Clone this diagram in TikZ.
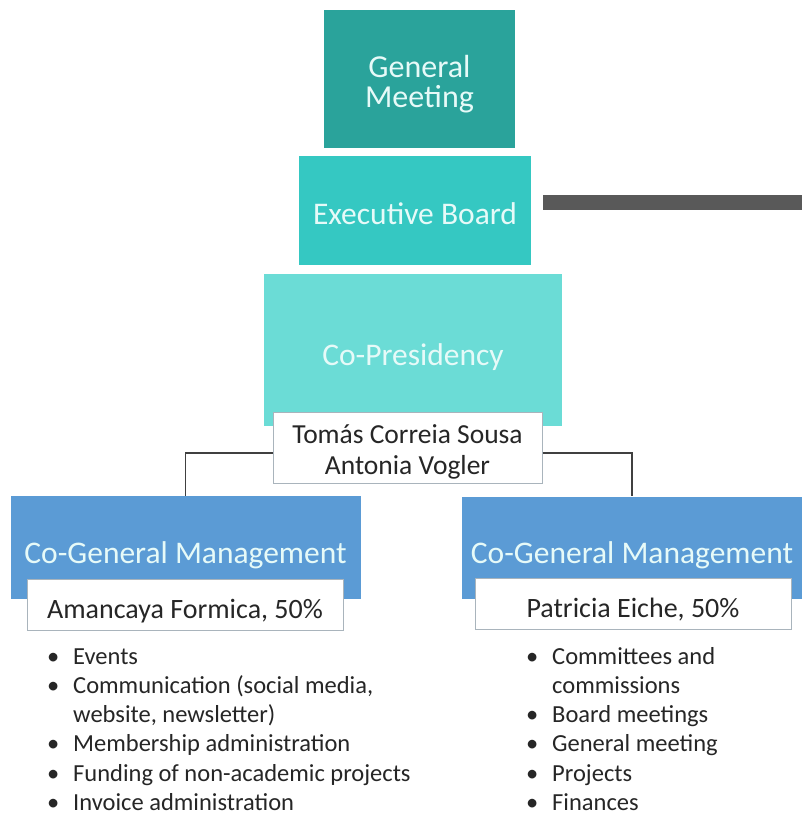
\documentclass[tikz,border=0pt]{standalone}
\usepackage{fontspec}
\setmainfont{Carlito}
\definecolor{gmcol}{HTML}{2AA39B}
\definecolor{ebcol}{HTML}{35C8C2}
\definecolor{copcol}{HTML}{6BDCD6}
\definecolor{cgmcol}{HTML}{5B9BD5}
\definecolor{lighttxt}{HTML}{E6FAF8}
\definecolor{darktxt}{HTML}{262626}
\definecolor{barcol}{HTML}{595959}
\definecolor{linecol}{HTML}{404040}
\definecolor{namebord}{HTML}{A9B4BC}
\tikzset{
  orgbox/.style={draw=none, inner sep=0pt, align=center, text=lighttxt},
  namebox/.style={draw=namebord, line width=1pt, fill=white, inner sep=0pt, align=center, text=darktxt},
  conn/.style={draw=linecol, line width=1.6pt},
  listtxt/.style={anchor=north west, align=left, inner sep=0pt, text=darktxt, font=\fontsize{24.5}{29.2}\selectfont}
}
\newcommand{\bul}{\makebox[26pt][l]{\textbullet}}
\newcommand{\ind}{\hspace*{26pt}}
\begin{document}
\begin{tikzpicture}[x=1pt,y=-1pt]
\useasboundingbox (0,0) rectangle (802,815);
\fill[white] (0,0) rectangle (802,815);
\node[orgbox, fill=gmcol, minimum width=191pt, minimum height=138pt, font=\fontsize{32}{30}\selectfont, text height=56pt, text depth=0pt] (gm) at (419.5,79) {General\\Meeting};
\node[orgbox, fill=ebcol, minimum width=232pt, minimum height=109pt, font=\fontsize{31.5}{36}\selectfont, text height=27pt, text depth=0pt] (eb) at (415,210.5) {Executive Board};
\coordinate (barstart) at (543,202.5);
\coordinate (barend) at (802,202.5);
\draw[barcol, line width=15pt] (barstart) -- (barend);
\node[orgbox, fill=copcol, minimum width=298pt, minimum height=152pt, font=\fontsize{31.5}{36}\selectfont, text height=30pt, text depth=0pt] (cop) at (413,350) {Co-Presidency};
\node[orgbox, fill=cgmcol, minimum width=350pt, minimum height=103pt, font=\fontsize{31.5}{36}\selectfont, text height=31pt, text depth=0pt] (lcgm) at (185.5,547.5) {Co-General Management};
\node[orgbox, fill=cgmcol, minimum width=340pt, minimum height=102pt, font=\fontsize{31.5}{36}\selectfont, text height=31pt, text depth=0pt] (rcgm) at (632,547.5) {Co-General Management};
\node[namebox, minimum width=269pt, minimum height=71pt, font=\fontsize{27.5}{31}\selectfont, text height=53pt, text depth=0pt] (names) at (407.5,447.5) {Tomás Correia Sousa\\Antonia Vogler};
\node[namebox, minimum width=316pt, minimum height=51pt, font=\fontsize{28}{32}\selectfont, text height=27pt, text depth=0pt] (lname) at (185,604.5) {Amancaya Formica, 50\%};
\node[namebox, minimum width=316pt, minimum height=51pt, font=\fontsize{28}{32}\selectfont, text height=27pt, text depth=0pt] (rname) at (633,603.5) {Patricia Eiche, 50\%};
\draw[conn] ([yshift=-5.5pt]names.west) -| (lcgm.north);
\draw[conn] ([yshift=-5.5pt]names.east) -| (rcgm.north);
\node[listtxt] (llist) at (47,642) {\rule{0pt}{22pt}\bul Events\\\bul Communication (social media,\\\ind website, newsletter)\\\bul Membership administration\\\bul Funding of non-academic projects\\\bul Invoice administration};
\node[listtxt] (rlist) at (526,642) {\rule{0pt}{22pt}\bul Committees and\\\ind commissions\\\bul Board meetings\\\bul General meeting\\\bul Projects\\\bul Finances};
\end{tikzpicture}
\end{document}
